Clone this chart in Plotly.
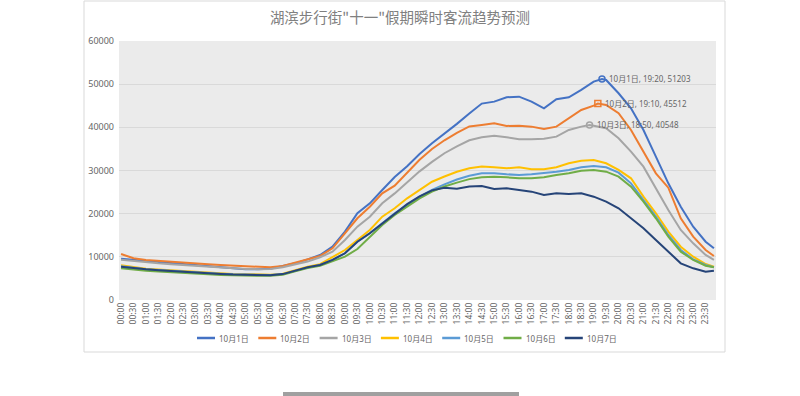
import plotly.graph_objects as go

# ---------------- data ----------------
TIMES = [f"{h:02d}:{m:02d}" for h in range(24) for m in (0, 30)] + ["23:50"]
TICK_LABELS = [f"{h:02d}:{m:02d}" for h in range(24) for m in (0, 30)]

SERIES_NAMES = ["10月1日", "10月2日", "10月3日", "10月4日", "10月5日", "10月6日", "10月7日"]
COLORS = ["#4472C4", "#ED7D31", "#A5A5A5", "#FFC000", "#5B9BD5", "#70AD47", "#264478"]

D1 = [9570, 9270, 8960, 8800, 8570, 8340, 8110, 7880, 7570, 7260, 7110, 7110, 7260, 7880, 8490, 9420,
      10430, 12350, 15830, 20090, 22400, 25490, 28500, 31000,
      33800, 36300, 38500, 40800, 43200, 45500, 45950, 46960,
      47110, 45950, 44410, 46500, 46960, 48660, 50580, 50970,
      47890, 44410, 39390, 33200, 27030, 21620, 16990, 13510, 11970]
D2 = [10660, 9660, 9270, 9040, 8800, 8570, 8420, 8270, 8110, 7960, 7800, 7650, 7570, 7880, 8650, 9420,
      10200, 11970, 15450, 18930, 21620, 24720, 26500, 29500,
      32500, 35000, 37000, 38700, 40200, 40550, 40940, 40320,
      40390, 40160, 39620, 40160, 42100, 44020, 45020, 45180,
      43260, 39390, 34360, 29350, 26020, 18930, 14670, 11580, 10190]
D3 = [9300, 9000, 8700, 8500, 8300, 8100, 7900, 7700, 7500, 7300, 7200, 7150, 7200, 7600, 8200, 8900,
      9900, 11200, 13900, 16990, 19300, 22400, 24700, 27200,
      29800, 32000, 34000, 35600, 37000, 37700, 38070, 37690,
      37230, 37230, 37380, 37840, 39390, 40160, 40390, 39780,
      37460, 34360, 30890, 25870, 20850, 16220, 13130, 10430, 9270]
D4 = [8040, 7600, 7260, 7050, 6850, 6650, 6490, 6350, 6200, 6050, 5950, 5900, 5870, 6100, 6950, 7720,
      8300, 10040, 11580, 13900, 16220, 19300, 21250, 23560,
      25500, 27400, 28600, 29700, 30500, 30900, 30740, 30510,
      30740, 30280, 30280, 30740, 31670, 32280, 32440, 31670,
      30120, 28190, 23940, 20090, 15830, 12350, 10040, 8340, 7720]
D5 = [7800, 7400, 7150, 6950, 6750, 6550, 6400, 6250, 6100, 5950, 5850, 5800, 5800, 6000, 6800, 7500,
      8100, 9300, 10820, 13510, 15450, 17770, 20090, 22010,
      23940, 25500, 26800, 27900, 28800, 29350, 29350, 29120,
      28960, 29120, 29350, 29730, 30120, 30740, 31050, 30740,
      29500, 27030, 23170, 19300, 15060, 11580, 9430, 8110, 7570]
D6 = [7340, 7000, 6800, 6600, 6400, 6250, 6100, 5950, 5800, 5700, 5640, 5600, 5600, 5850, 6640, 7400,
      7900, 8900, 10040, 11800, 14670, 17380, 19700, 21620,
      23560, 25100, 26300, 27200, 28000, 28420, 28580, 28420,
      28190, 28190, 28420, 28960, 29350, 29960, 30120, 29730,
      28580, 26250, 22780, 18930, 14670, 11200, 9270, 7950, 7570]
D7 = [7720, 7350, 7110, 6900, 6700, 6500, 6330, 6200, 6050, 5900, 5800, 5750, 5750, 6000, 6800, 7570,
      8100, 9300, 10820, 13510, 15450, 17770, 20090, 22200,
      24000, 25400, 26000, 25800, 26300, 26410, 25720, 25870,
      25490, 25100, 24330, 24720, 24560, 24720, 23940, 22780,
      21250, 18930, 16610, 13900, 11200, 8500, 7340, 6560, 6790]

SERIES = [D1, D2, D3, D4, D5, D6, D7]

# labelled peaks: series index -> (time, value)
PEAKS = {0: ("19:20", 51203), 1: ("19:10", 45512), 2: ("18:50", 40548)}
PEAK_SYMBOLS = {0: "circle-open", 1: "square-open", 2: "circle-open"}


def to_min(s):
    return int(s[:2]) * 60 + int(s[3:])


W, H = 800, 396
L, R, T, B = 119, 716, 41, 300
pw, ph = R - L, B - T


def px(x):
    return (x - L) / pw


def py(y):
    return (B - y) / ph


font_fam = "Noto Sans, Noto Sans CJK SC, sans-serif"
fig = go.Figure()
for i, (name, vals) in enumerate(zip(SERIES_NAMES, SERIES)):
    pts = [(to_min(t), v) for t, v in zip(TIMES, vals)]
    if i in PEAKS:
        pts.append((to_min(PEAKS[i][0]), PEAKS[i][1]))
        pts.sort()
    fig.add_trace(go.Scatter(
        x=[p[0] for p in pts], y=[p[1] for p in pts], name=name, mode="lines",
        line=dict(color=COLORS[i], width=2), hoverinfo="skip", showlegend=False))

for i, (t, v) in PEAKS.items():
    fig.add_trace(go.Scatter(
        x=[to_min(t)], y=[v], mode="markers", showlegend=False, hoverinfo="skip",
        marker=dict(symbol=PEAK_SYMBOLS[i], size=6, color=COLORS[i], line=dict(width=1.5))))
    fig.add_annotation(x=to_min(t), y=v, text=f"{SERIES_NAMES[i]}, {t}, {v}",
                       xanchor="left", yanchor="middle", xshift=5, showarrow=False,
                       font=dict(family=font_fam, size=8, color="#666666"))

# legend drawn as line samples + text (Excel style, compact)
LEG_X0, LEG_STEP, LEG_Y = 197, 61.3, 338
for i, name in enumerate(SERIES_NAMES):
    x0 = LEG_X0 + LEG_STEP * i
    fig.add_shape(type="line", xref="paper", yref="paper", x0=px(x0), x1=px(x0 + 18),
                  y0=py(LEG_Y), y1=py(LEG_Y), line=dict(color=COLORS[i], width=2.5))
    fig.add_annotation(xref="paper", yref="paper", x=px(x0 + 20), y=py(LEG_Y), text=name,
                       xanchor="left", yanchor="middle", showarrow=False,
                       font=dict(family=font_fam, size=8, color="#666666"))

# chart frame
fig.add_shape(type="rect", xref="paper", yref="paper", x0=px(84), x1=px(725), y0=py(352), y1=py(1),
              line=dict(color="#d9d9d9", width=1), fillcolor="rgba(0,0,0,0)", layer="below")
# window scrollbar seen at bottom of screenshot
fig.add_shape(type="rect", xref="paper", yref="paper", x0=px(283), x1=px(519), y0=py(396), y1=py(392),
              line=dict(width=0), fillcolor="#a0a0a0")

fig.update_layout(
    width=W, height=H,
    margin=dict(l=L, r=W - R, t=T, b=H - B),
    paper_bgcolor="white", plot_bgcolor="#ebebeb",
    title=dict(text='湖滨步行街"十一"假期瞬时客流趋势预测', x=400 / W, xanchor="center",
               y=1 - 18 / H, yanchor="middle",
               font=dict(family="Noto Sans CJK SC", size=14.5, color="#808080")),
    showlegend=False,
    xaxis=dict(range=[-5, 1435], tickvals=[to_min(t) for t in TICK_LABELS], ticktext=TICK_LABELS,
               tickangle=-90, showgrid=False, zeroline=False, showline=False, ticks="",
               tickfont=dict(family=font_fam, size=8.5, color="#666666")),
    yaxis=dict(range=[0, 60000], dtick=10000, tickformat="d", showgrid=True, gridcolor="#d9d9d9",
               gridwidth=1, zeroline=False, showline=False, ticks="", ticklabelstandoff=4,
               tickfont=dict(family=font_fam, size=9, color="#666666")),
)

fig.write_html("out.html", config={"displayModeBar": False},
               post_script="document.body.style.margin='0';")
